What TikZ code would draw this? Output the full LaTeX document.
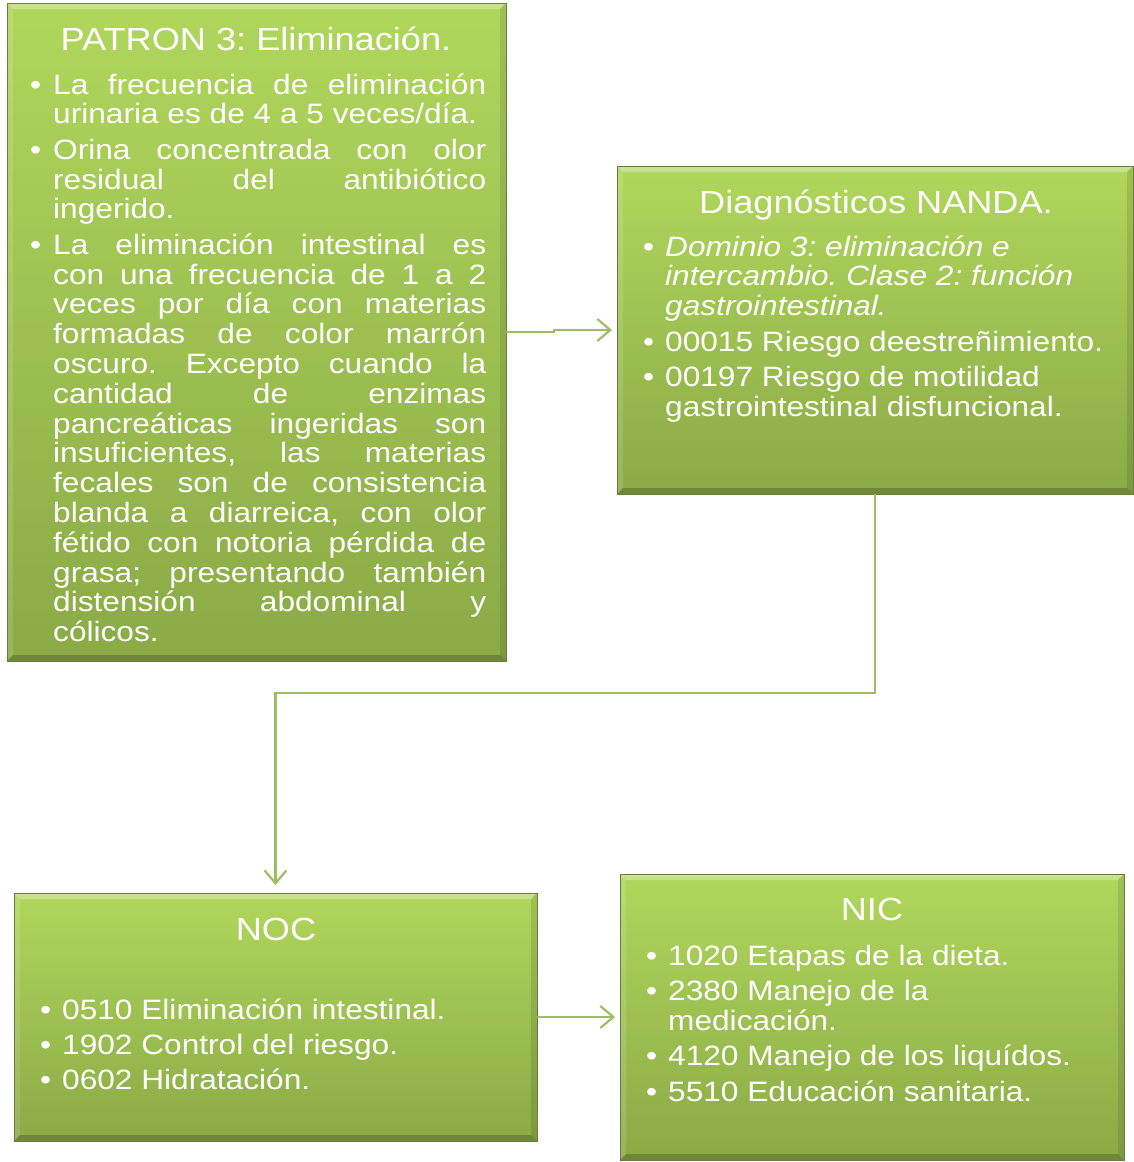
\documentclass[tikz,border=0pt]{standalone}
\usepackage{fontspec}
\setmainfont{Liberation Sans}[FakeStretch=1.13]
\usetikzlibrary{arrows.meta,calc}
\definecolor{boxtop}{RGB}{176,215,92}
\definecolor{boxbot}{RGB}{138,170,70}
\definecolor{boxedge}{RGB}{105,125,65}
\definecolor{conncol}{RGB}{158,190,98}
\pgfdeclarelayer{bg}
\pgfsetlayers{bg,main}
\frenchspacing
\newcommand\bodyfont{\fontsize{28}{29.8}\selectfont\spaceskip=0pt\xspaceskip=0pt\relax}
\newcommand\igap{\par\vspace{5.6pt}}
\newcommand\jfirst[1]{\noindent\makebox[23pt][l]{\textbullet}\makebox[433pt][s]{#1}}
\newcommand\jline[1]{\par\noindent\hspace*{23pt}\makebox[433pt][s]{#1}}
\newcommand\jlast[1]{\par\noindent\hspace*{23pt}#1}
\newcommand\bitem[1]{\hangindent=22pt\hangafter=1\noindent\makebox[22pt][l]{\textbullet}#1}
\newcommand\boxshadow[1]{%
 \begin{pgfonlayer}{bg}
 \fill[black,opacity=0.12] ([shift={(0pt,-1pt)}]#1.north west) rectangle ([shift={(5pt,-5pt)}]#1.south east);
 \fill[black,opacity=0.18] ([shift={(1pt,-2pt)}]#1.north west) rectangle ([shift={(3pt,-3pt)}]#1.south east);
 \end{pgfonlayer}}
\newcommand\boxbevel[1]{%
 \fill[white,opacity=0.3] (#1.north west) -- (#1.north east) -- ([shift={(-6pt,-6pt)}]#1.north east) -- ([shift={(6pt,-6pt)}]#1.north west) -- cycle;
 \fill[white,opacity=0.12] (#1.north west) -- ([shift={(6pt,-6pt)}]#1.north west) -- ([shift={(6pt,6pt)}]#1.south west) -- (#1.south west) -- cycle;
 \fill[black,opacity=0.1] (#1.north east) -- ([shift={(-6pt,-6pt)}]#1.north east) -- ([shift={(-6pt,6pt)}]#1.south east) -- (#1.south east) -- cycle;
 \fill[black,opacity=0.2] (#1.south west) -- ([shift={(6pt,6pt)}]#1.south west) -- ([shift={(-6pt,6pt)}]#1.south east) -- (#1.south east) -- cycle;
 \draw[boxedge,line width=0.8pt] (#1.north west) rectangle (#1.south east);}
\tikzset{
 gbox/.style={draw=boxedge, line width=0.8pt, top color=boxtop, bottom color=boxbot, anchor=north west, inner sep=0pt, outer sep=0pt},
 conn/.style={draw=conncol, line width=2.2pt, -{Straight Barb[length=13pt,width=22pt]}, shorten >=5pt},
 ttl/.style={text=white, anchor=base, inner sep=0pt, font=\fontsize{32}{36}\selectfont},
 body/.style={text=white, anchor=base west, inner sep=0pt, font=\bodyfont}
}
\begin{document}
\begin{tikzpicture}[x=1pt,y=-1pt]
\fill[white] (0,0) rectangle (1134,1162);
\useasboundingbox (0,0) rectangle (1134,1162);

% boxes
\node[gbox, minimum width=499pt, minimum height=658pt] (A) at (7,3) {};
\node[gbox, minimum width=516pt, minimum height=328pt] (B) at (617,166) {};
\node[gbox, minimum width=523pt, minimum height=248pt] (C) at (14,893) {};
\node[gbox, minimum width=504pt, minimum height=286pt] (D) at (620,874) {};
\boxshadow{A}\boxshadow{B}\boxshadow{C}\boxshadow{D}
\boxbevel{A}\boxbevel{B}\boxbevel{C}\boxbevel{D}

% titles
\node[ttl] (tA) at (256,50) {PATRON 3: Eliminación.};
\node[ttl] (tB) at (876,213) {Diagnósticos NANDA.};
\node[ttl] (tC) at (276,940) {NOC};
\node[ttl] (tD) at (872,920) {NIC};

% body texts
\node[body, text width=460pt] (bA) at (30,94) {\bodyfont
\jfirst{La frecuencia de eliminación}%
\jlast{urinaria es de 4 a 5 veces/día.}%
\igap\jfirst{Orina concentrada con olor}%
\jline{residual del antibiótico}%
\jlast{ingerido.}%
\igap\jfirst{La eliminación intestinal es}%
\jline{con una frecuencia de 1 a 2}%
\jline{veces por día con materias}%
\jline{formadas de color marrón}%
\jline{oscuro. Excepto cuando la}%
\jline{cantidad de enzimas}%
\jline{pancreáticas ingeridas son}%
\jline{insuficientes, las materias}%
\jline{fecales son de consistencia}%
\jline{blanda a diarreica, con olor}%
\jline{fétido con notoria pérdida de}%
\jline{grasa; presentando también}%
\jline{distensión abdominal y}%
\jlast{cólicos.}\par};

\node[body, text width=480pt] (bB) at (643,256) {\bodyfont
\bitem{\textit{Dominio 3: eliminación e\newline intercambio. Clase 2: función\newline gastrointestinal.}}%
\igap\bitem{00015 Riesgo deestreñimiento.}%
\igap\bitem{00197 Riesgo de motilidad\newline gastrointestinal disfuncional.}\par};

\node[body, text width=480pt] (bC) at (40,1019) {\bodyfont
\bitem{0510 Eliminación intestinal.}%
\igap\bitem{1902 Control del riesgo.}%
\igap\bitem{0602 Hidratación.}\par};

\node[body, text width=480pt] (bD) at (646,965) {\bodyfont
\bitem{1020 Etapas de la dieta.}%
\igap\bitem{2380 Manejo de la\newline medicación.}%
\igap\bitem{4120 Manejo de los liquídos.}%
\igap\bitem{5510 Educación sanitaria.}\par};

% connectors
\coordinate (mid) at (0,693);
\draw[conn] (A.east) -- ++(48pt,0) |- (B.west);
\draw[conn, shorten >=8pt] (B.south) -- (B.south |- mid) -| (C.north);
\draw[conn] (C.east) -- (D.west);
\end{tikzpicture}
\end{document}
